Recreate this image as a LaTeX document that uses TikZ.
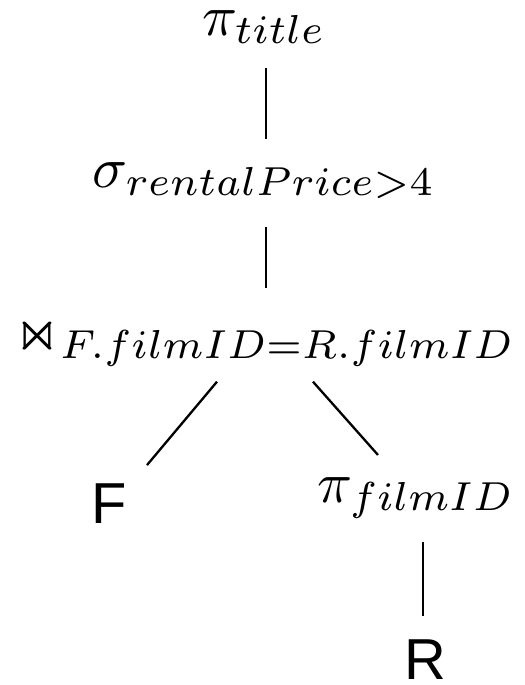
\documentclass[tikz,border=0pt]{standalone}
\usepackage{amsmath, amssymb}
\usepackage{fontspec}
\newfontfamily\relfont{Liberation Sans}
\usetikzlibrary{positioning, calc}

\begin{document}
\begin{tikzpicture}[x=0.173pt, y=0.173pt, op/.style={inner sep=0pt, anchor=base}, rel/.style={op, font=\relfont}, edge/.style={thin}]
        \useasboundingbox (0,0) rectangle (524,685);
        \node[op] (title) at (264,650) {$\pi_{title}$};
        \node[op] (sel) at (264,498) {$\sigma_{rentalPrice>4}$};
        \node[op] (join) at (265,335) {$\Join_{F.filmID=R.filmID}$};
        \node[rel] (f) at (109,162) {F};
        \node[op] (pfilm) at (416,183) {$\pi_{filmID}$};
        \node[rel] (r) at (425,6) {R};
        \draw[edge] ($(title.south)+(2,-23)$) -- ($(sel.north)+(2,22)$);
        \draw[edge] ($(sel.south)+(2,-27)$) -- ($(join.north)+(1,27)$);
        \draw[edge] ($(join.south)+(-48,-14)$) -- ($(f.north)+(38,17)$);
        \draw[edge] ($(join.south)+(48,-14)$) -- ($(pfilm.north)+(-38,21)$);
        \draw[edge] ($(r |- pfilm.south)+(-2,-22)$) -- ($(r.north)+(-2,22)$);
    \end{tikzpicture}
\end{document}
